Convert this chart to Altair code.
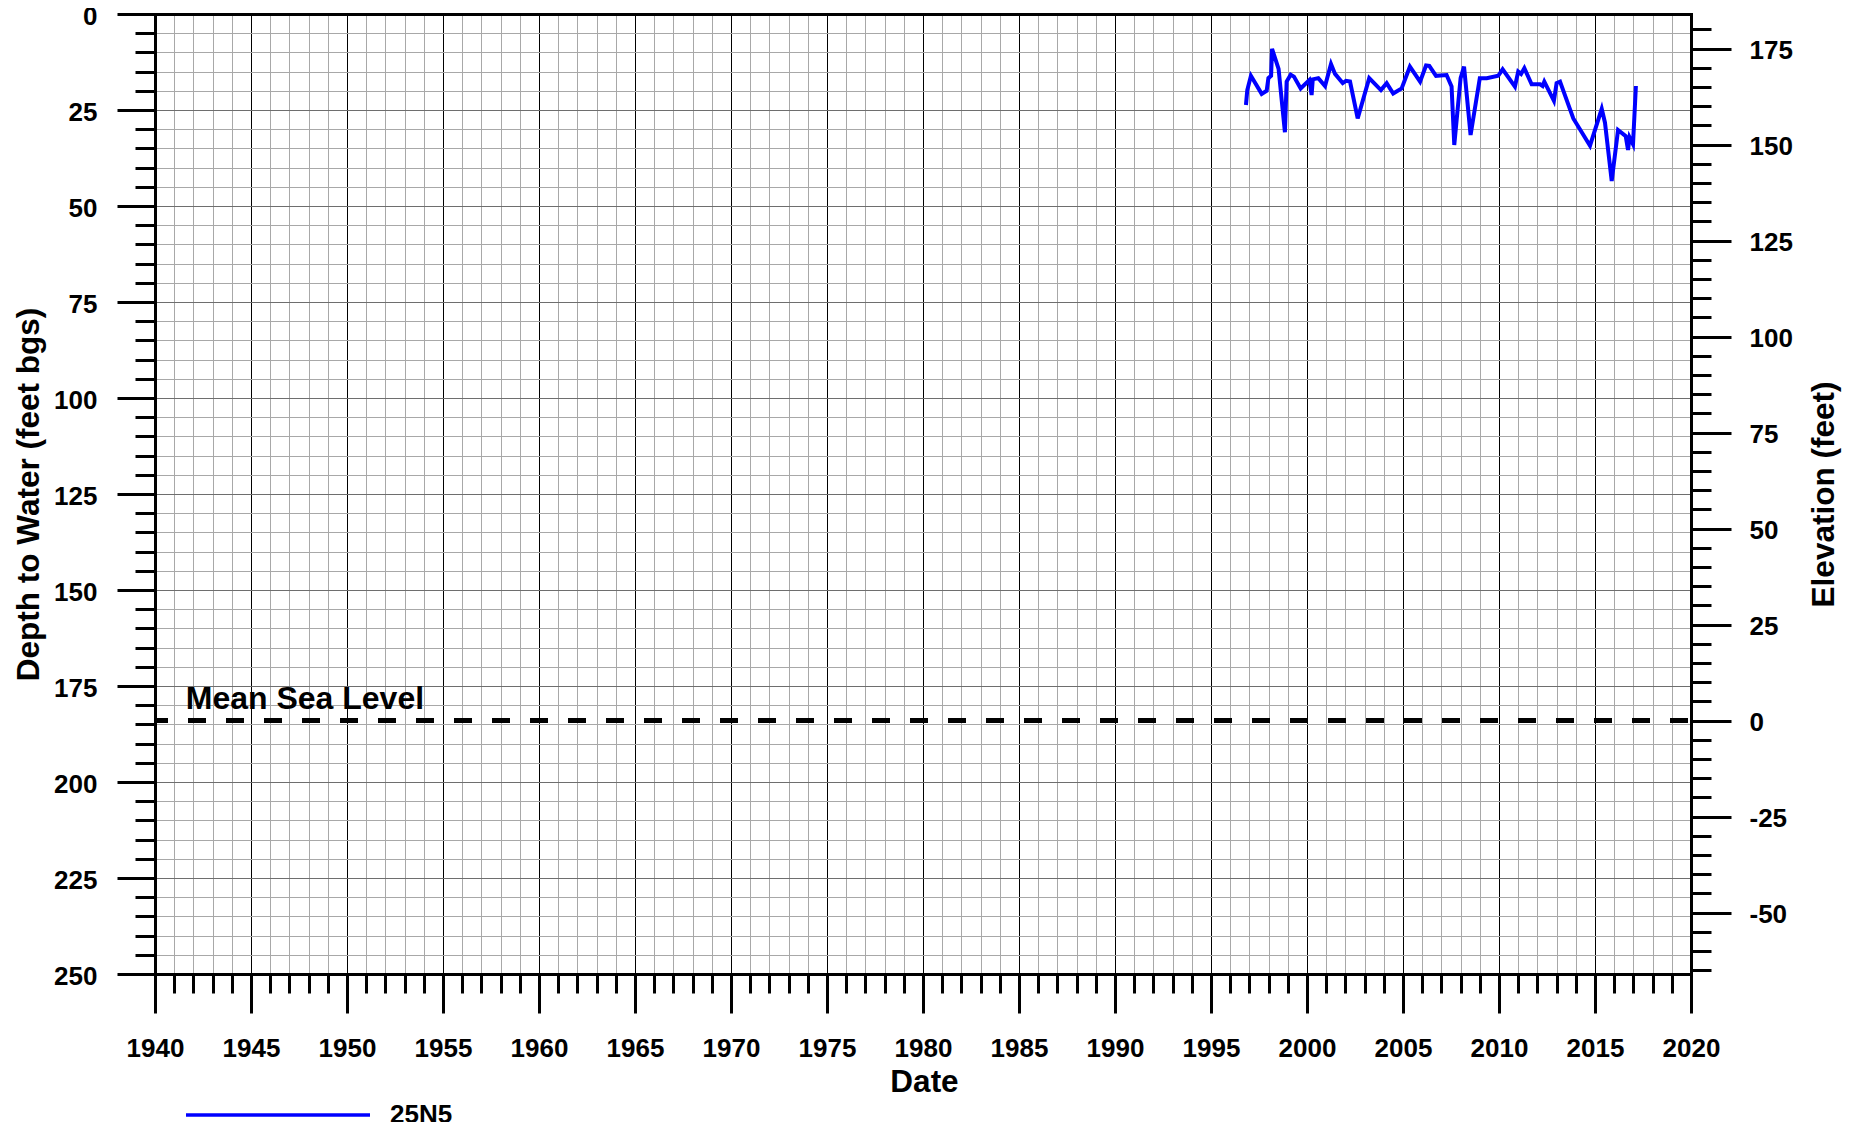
import altair as alt
import pandas as pd

# ---------------- data ----------------
well_name = "25N5"
years = [1996.82, 1996.89, 1997.08, 1997.64, 1997.90, 1997.99, 1998.13, 1998.18,
         1998.52, 1998.85, 1998.94, 1999.15, 1999.32, 1999.67, 2000.12, 2000.24,
         2000.30, 2000.59, 2000.94, 2001.25, 2001.46, 2001.86, 2002.03, 2002.24,
         2002.64, 2003.24, 2003.85, 2004.15, 2004.49, 2004.93, 2005.36, 2005.89,
         2006.20, 2006.37, 2006.72, 2007.27, 2007.53, 2007.67, 2008.00, 2008.18,
         2008.52, 2009.00, 2009.36, 2009.96, 2010.19, 2010.83, 2011.00, 2011.15,
         2011.32, 2011.70, 2012.14, 2012.27, 2012.36, 2012.86, 2013.00, 2013.18,
         2013.87, 2014.74, 2015.35, 2015.52, 2015.87, 2016.20, 2016.60, 2016.72,
         2016.80, 2016.98, 2017.13]
depths = [23.7, 19.8, 16.1, 20.8, 20.0, 16.7, 16.1, 9.1,
          14.3, 30.8, 17.6, 15.8, 16.3, 19.4, 17.2, 21.1,
          17.0, 16.7, 18.75, 13.0, 15.6, 18.0, 17.4, 17.6,
          27.2, 16.7, 19.8, 18.0, 20.7, 19.4, 13.7, 17.6,
          13.4, 13.5, 16.1, 15.9, 18.9, 34.1, 16.7, 13.7,
          31.5, 16.7, 16.7, 16.1, 14.4, 18.9, 15.0, 15.6,
          14.1, 18.3, 18.3, 18.75, 17.6, 22.6, 18.0, 17.6,
          27.2, 34.3, 24.7, 28.3, 43.5, 30.2, 31.8, 35.4,
          32.1, 33.9, 18.75]

land_surface_elev = 184          # elevation (ft) of depth 0
msl_label = "Mean Sea Level"
msl_label_year = [1941.6]
msl_label_depth = [181.0]

x_domain = [1940, 2020]
depth_domain = [0, 250]
elev_domain = [land_surface_elev - 250, land_surface_elev]

x_major = list(range(1940, 2021, 5))
x_minor = list(range(1940, 2021, 1))
depth_major = list(range(0, 251, 25))
depth_minor = list(range(0, 251, 5))
elev_major = list(range(-50, 176, 25))
elev_minor = list(range(-65, 181, 5))

x_title = "Date"
y_title = "Depth to Water (feet bgs)"
y2_title = "Elevation (feet)"

# ---------------- tables ----------------
df = pd.DataFrame({"year": years, "depth": depths, "well": well_name})
df["elev"] = land_surface_elev - df["depth"]
msl_df = pd.DataFrame({"depth": [land_surface_elev]})
lab_df = pd.DataFrame({"year": msl_label_year, "depth": msl_label_depth, "label": [msl_label]})

FONT = "Liberation Sans"
xs = alt.Scale(domain=x_domain, nice=False, zero=False)
ys = alt.Scale(domain=depth_domain, reverse=True, nice=False, zero=False)
es = alt.Scale(domain=elev_domain, nice=False, zero=False)

base = alt.Chart(df)

common_tick = dict(tickWidth=3, tickColor="black", tickCap="butt")
lab_style = dict(labelFont=FONT, labelFontSize=26, labelFontWeight="bold", labelColor="black")
title_style = dict(titleFont=FONT, titleFontSize=31.5, titleFontWeight="bold", titleColor="black")

# minor grid + minor ticks (bottom, left)
minor = base.mark_point(opacity=0).encode(
    x=alt.X("year:Q", scale=xs, axis=alt.Axis(
        orient="bottom", values=x_minor, tickSize=19, labels=False, domain=False,
        grid=True, gridColor="#a8a8a8", gridWidth=1, title=None, **common_tick)),
    y=alt.Y("depth:Q", scale=ys, axis=alt.Axis(
        orient="left", values=depth_minor, tickSize=20, labels=False, domain=False,
        grid=True, gridColor="#a8a8a8", gridWidth=1, title=None, **common_tick)),
)

# major grid + major ticks + labels (bottom, left)
major = base.mark_point(opacity=0).encode(
    x=alt.X("year:Q", scale=xs, axis=alt.Axis(
        orient="bottom", values=x_major, tickSize=39, labelPadding=22, format="d",
        labelFlush=False, labelOverlap=False, domain=False,
        grid=True, gridColor="black", gridWidth=1,
        title=x_title, titleX=769, titleY=117, titleBaseline="alphabetic",
        **common_tick, **lab_style, **title_style)),
    y=alt.Y("depth:Q", scale=ys, axis=alt.Axis(
        orient="left", values=depth_major, tickSize=38, labelPadding=20, labelOffset=2,
        format="d", labelOverlap=False, domain=False,
        grid=True, gridColor="#6e6e6e", gridWidth=1,
        title=y_title, titleAngle=270, titleX=-117, titleY=480,
        titleBaseline="alphabetic", titleAlign="center",
        **common_tick, **lab_style, **title_style)),
)

# right (elevation) minor ticks
right_minor = base.mark_point(opacity=0).encode(
    x=alt.X("year:Q", scale=xs, axis=None),
    y=alt.Y("elev:Q", scale=es, axis=alt.Axis(
        orient="right", values=elev_minor, tickSize=20, labels=False, domain=False,
        grid=False, title=None, **common_tick)),
)

# right (elevation) major ticks + labels
right_major = base.mark_point(opacity=0).encode(
    x=alt.X("year:Q", scale=xs, axis=None),
    y=alt.Y("elev:Q", scale=es, axis=alt.Axis(
        orient="right", values=elev_major, tickSize=40, labelPadding=18, labelOffset=2,
        labelExpr="'' + datum.value", labelOverlap=False, domain=False, grid=False,
        title=y2_title, titleAngle=270, titleX=142, titleY=480,
        titleBaseline="alphabetic", titleAlign="center",
        **common_tick, **lab_style, **title_style)),
)

# mean sea level dashed line
msl = alt.Chart(msl_df).mark_rule(
    color="black", strokeWidth=5, strokeDash=[18, 20], strokeDashOffset=-3
).encode(y=alt.Y("depth:Q", scale=ys, axis=None))

msl_text = alt.Chart(lab_df).mark_text(
    align="left", baseline="alphabetic", font=FONT, fontSize=32, fontWeight="bold", color="black"
).encode(
    x=alt.X("year:Q", scale=xs, axis=None),
    y=alt.Y("depth:Q", scale=ys, axis=None),
    text="label:N",
)

# the hydrograph
line = base.mark_line(strokeWidth=4, strokeJoin="miter").encode(
    x=alt.X("year:Q", scale=xs, axis=None),
    y=alt.Y("depth:Q", scale=ys, axis=None),
    color=alt.Color("well:N", scale=alt.Scale(domain=[well_name], range=["#0000ff"]),
                    legend=alt.Legend(orient="none", legendX=29, legendY=1007, title=None,
                                      symbolType="stroke", symbolSize=184 * 184,
                                      symbolStrokeWidth=3.5, labelOffset=18, padding=0,
                                      labelFont=FONT, labelFontSize=26, labelFontWeight="bold",
                                      labelColor="black")),
)

# frame (top/left and bottom/right axis lines)
frame1 = base.mark_point(opacity=0).encode(
    x=alt.X("year:Q", scale=xs, axis=alt.Axis(
        orient="top", ticks=False, labels=False, grid=False, domain=True,
        domainColor="black", domainWidth=3, domainCap="square", zindex=1, title=None)),
    y=alt.Y("depth:Q", scale=ys, axis=alt.Axis(
        orient="left", ticks=False, labels=False, grid=False, domain=True,
        domainColor="black", domainWidth=3, domainCap="square", zindex=1, title=None)),
)
frame2 = base.mark_point(opacity=0).encode(
    x=alt.X("year:Q", scale=xs, axis=alt.Axis(
        orient="bottom", ticks=False, labels=False, grid=False, domain=True,
        domainColor="black", domainWidth=3, domainCap="square", zindex=1, title=None)),
    y=alt.Y("elev:Q", scale=es, axis=alt.Axis(
        orient="right", ticks=False, labels=False, grid=False, domain=True,
        domainColor="black", domainWidth=3, domainCap="square", zindex=1, title=None)),
)

chart = alt.layer(
    minor, major, right_minor, right_major, msl, msl_text, line, frame1, frame2
).resolve_scale(
    x="independent", y="independent"
).properties(
    width=1536, height=960,
    autosize=alt.AutoSizeParams(type="none"),
    padding={"left": 147, "top": 6, "right": 160, "bottom": 148},
    background="white",
).configure_view(strokeWidth=0)

chart.save("out.html", embed_options={"renderer": "svg", "actions": False})
